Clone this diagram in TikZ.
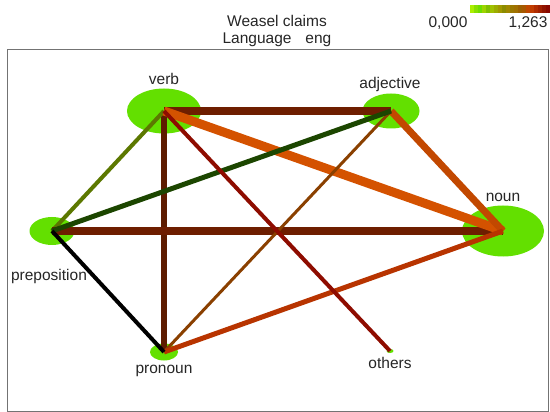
\documentclass[tikz,border=0pt]{standalone}
\usepackage{fontspec}
\setmainfont{Liberation Sans}
\usetikzlibrary{shapes.geometric}
\begin{document}
\begin{tikzpicture}[x=1pt,y=-1pt,
  every node/.style={font=\fontsize{15.5}{17}\selectfont, text=black!85, inner sep=0pt},
  blob/.style={ellipse, fill=blobgreen, draw=none},
  rel/.style={line width=#1, line cap=butt},
  lbl/.style={anchor=center}]
\definecolor{blobgreen}{HTML}{63E000}
\definecolor{cBrownA}{HTML}{6E1E00}
\definecolor{cBrownB}{HTML}{5E1C00}
\definecolor{cOrange}{HTML}{D45200}
\definecolor{cOrangeB}{HTML}{C24800}
\definecolor{cOlive}{HTML}{5C7800}
\definecolor{cDarkRed}{HTML}{8E0C00}
\definecolor{cDarkGreen}{HTML}{1C4600}
\definecolor{cBrownC}{HTML}{8A4000}
\definecolor{cRedOr}{HTML}{B83400}
\useasboundingbox (0,0) rectangle (550,412);
\fill[white] (0,0) rectangle (550,412);
% frame
\draw[black!55, line width=1pt] (7,50) rectangle (548,411);

% header text
\node[lbl] (title) at (277,21) {Weasel claims};
\node[lbl] (lang) at (277,40) {Language\hspace{0.9em}eng};
\node[lbl] (vmin) at (448,23) {0,000};
\node[lbl] (vmax) at (528,23) {1,263};

% colour scale
\foreach \i/\c in {0/AAEE00,1/88E000,2/70DC00,3/9CD400,4/80C000,5/A0C000,6/9CAC00,7/A09800,8/8C8C00,9/A08800,10/9A7800,11/A07000,12/9C6000,13/A85800,14/C04800,15/C03C00,16/B02C00,17/A02000,18/901400,19/880800} {
  \definecolor{tmpc}{HTML}{\c}
  \fill[tmpc] ({470+\i*4},5) rectangle ({474.2+\i*4},13);
}

% part-of-speech nodes
\node[blob, minimum width=74pt, minimum height=45pt] (verb) at (164,111) {};
\node[blob, minimum width=57pt, minimum height=35pt] (adjective) at (391,111) {};
\node[blob, minimum width=82pt, minimum height=51pt] (noun) at (503,231) {};
\node[blob, minimum width=45pt, minimum height=28pt] (preposition) at (52,231) {};
\node[blob, minimum width=28pt, minimum height=17pt] (pronoun) at (164,352) {};
\node[blob, minimum width=7pt, minimum height=4pt] (others) at (390,351) {};

% labels
\node[lbl] (lverb) at (164,79) {verb};
\node[lbl] (ladj) at (390,84) {adjective};
\node[lbl] (lnoun) at (503,197) {noun};
\node[lbl] (lprep) at (49,276) {preposition};
\node[lbl] (lpron) at (164,371) {pronoun};
\node[lbl] (loth) at (390,363) {others};

% relations
\draw[rel=6pt, cBrownB] (verb.center) -- (pronoun.center);
\draw[rel=4pt, cOlive] (verb.center) -- (preposition.center);
\draw[rel=8pt, cBrownA] (verb.center) -- (adjective.center);
\draw[rel=8pt, cBrownA] (preposition.center) -- (noun.center);
\draw[rel=9pt, cOrange] (verb.center) -- (noun.center);
\draw[rel=7pt, cOrangeB] (adjective.center) -- (noun.center);
\draw[rel=3pt, cBrownC] (adjective.center) -- (pronoun.center);
\draw[rel=5pt, cDarkGreen] (adjective.center) -- (preposition.center);
\draw[rel=5pt, cRedOr] (pronoun.center) -- (noun.center);
\draw[rel=4pt, cDarkRed] (verb.center) -- (others.center);
\draw[rel=4pt, black] (preposition.center) -- (pronoun.center);
\end{tikzpicture}
\end{document}
